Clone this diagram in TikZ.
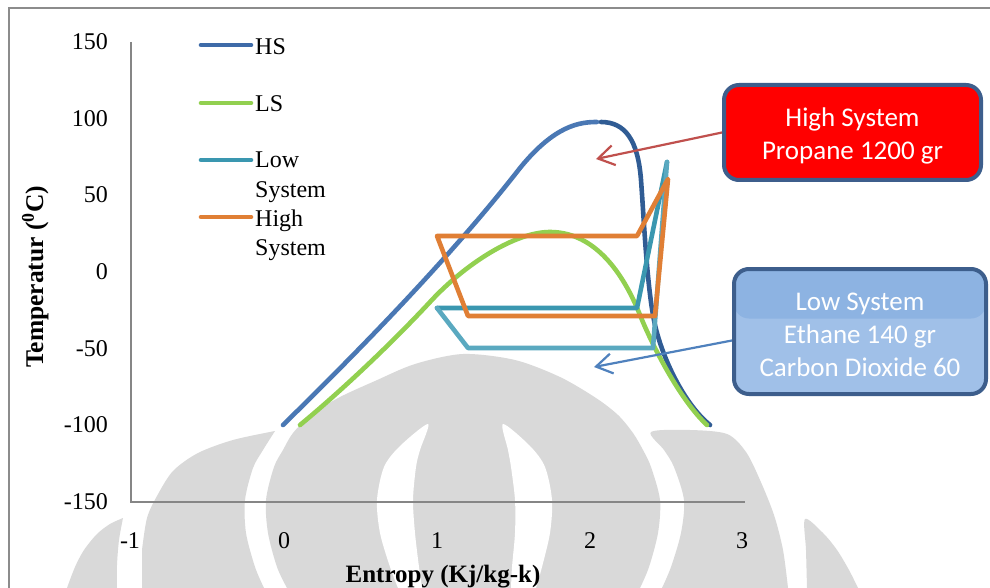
\documentclass[tikz,border=0pt]{standalone}
\usepackage{fontspec}
\setmainfont{Liberation Serif}
\newfontfamily\boxfont{Carlito}
\usetikzlibrary{arrows.meta}
\definecolor{wmgray}{HTML}{D9D9D9}
\definecolor{framegray}{HTML}{8C8C8C}
\definecolor{axisgray}{HTML}{868686}
\definecolor{hsA}{HTML}{4A78B4}
\definecolor{hsB}{HTML}{305C94}
\definecolor{hsleg}{HTML}{3E6BA8}
\definecolor{lsgreen}{HTML}{92D050}
\definecolor{lowA}{HTML}{3A97B0}
\definecolor{lowB}{HTML}{5AA9C0}
\definecolor{highor}{HTML}{E07F35}
\definecolor{boxred}{HTML}{FF0000}
\definecolor{boxborder}{HTML}{3D5E8C}
\definecolor{bluetop}{HTML}{8DB3E2}
\definecolor{bluebot}{HTML}{A0C0E8}
\definecolor{callred}{HTML}{C0504D}
\definecolor{callblue}{HTML}{4F81BD}
\begin{document}
\begin{tikzpicture}[x=1pt,y=-1pt,
  curve/.style={line width=4.6pt,line cap=round,line join=round},
  ticklab/.style={font=\fontsize{24}{28}\selectfont,inner sep=0pt},
  legtext/.style={font=\fontsize{24}{28}\selectfont,anchor=base west,inner sep=0pt},
  calloutarrow/.style={line width=2.2pt,-{Straight Barb[length=16pt,width=20pt]}},
  boxbase/.style={draw=boxborder,line width=4pt,rounded corners=15pt,align=center,
    text=white,font=\boxfont\fontsize{27}{33}\selectfont,inner sep=0pt},
  redbox/.style={boxbase,fill=boxred,minimum width=257pt,minimum height=95pt},
  bluebox/.style={boxbase,fill=bluebot,minimum width=252pt,minimum height=125pt,
    path picture={\fill[bluetop] (path picture bounding box.north west) rectangle ([yshift=13pt]path picture bounding box.east);}},
]
\useasboundingbox (0,0) rectangle (990,588);
\fill[white] (0,0) rectangle (990,588);

% watermark
\begin{scope}
\clip (0,0) rectangle (990,588);
\fill[wmgray] plot[smooth] coordinates {(67,588) (75,567) (84,550) (97,534) (110,524) (123,518)}
  -- plot[smooth] coordinates {(123,518) (119,540) (117,565) (117,588)} -- cycle;
\fill[wmgray] (142,588) -- plot[smooth] coordinates {(142,550) (147,518) (157,496) (173,471) (198,453) (233,440) (275,431)}
  -- plot[smooth] coordinates {(275,431) (263,450) (253,468) (245,500) (246,533) (255,567) (264,588)} -- cycle;
\fill[wmgray] plot[smooth] coordinates {(287,588) (277,567) (268,533) (266,500) (274,467) (283,450) (293,433) (312,414) (340,397) (375,381) (415,364) (463,354) (515,360) (560,377) (596,398) (618,415) (633,433) (643,450) (651,467) (660,500) (658,533) (649,567) (640,588)} -- cycle;
\fill[white] plot[smooth] coordinates {(398,588) (390,567) (380,533) (377,500) (384,467) (400,446) (428,424) (420,450) (416,467) (413,500) (415,533) (419,567) (422,588)} -- cycle;
\fill[white] plot[smooth] coordinates {(511,588) (512,567) (515,533) (515,500) (511,467) (508,450) (503,424) (530,446) (545,467) (552,500) (550,533) (542,567) (536,588)} -- cycle;
\fill[wmgray] plot[smooth] coordinates {(662,588) (671,567) (681,533) (684,500) (674,467) (664,450) (651,432) (690,430) (727,434) (746,452) (760,480) (774,515) (783,550) (788,588)} -- cycle;
\fill[wmgray] plot[smooth] coordinates {(807,588) (806,550) (805,519) (823,533) (837,550) (849,570) (858,588)} -- cycle;
\end{scope}

% frame and axes
\draw[framegray,line width=2pt] (9,588) -- (9,8) -- (990,8);
\draw[axisgray,line width=2pt] (131,42) -- (131,502) -- (745,502);

% y tick labels
\node[ticklab,anchor=east] (y150) at (108,42) {150};
\node[ticklab,anchor=east] (y100) at (108,118.5) {100};
\node[ticklab,anchor=east] (y50) at (108,195) {50};
\node[ticklab,anchor=east] (y0) at (108,272) {0};
\node[ticklab,anchor=east] (ym50) at (108,348.5) {-50};
\node[ticklab,anchor=east] (ym100) at (108,425) {-100};
\node[ticklab,anchor=east] (ym150) at (108,502) {-150};
% x tick labels
\node[ticklab] (xm1) at (130,541) {-1};
\node[ticklab] (x0) at (284,541) {0};
\node[ticklab] (x1) at (437,541) {1};
\node[ticklab] (x2) at (590,541) {2};
\node[ticklab] (x3) at (742,541) {3};

% axis titles
\node[font=\bfseries\fontsize{25}{30}\selectfont,anchor=base,inner sep=0pt] (xtitle) at (443,582) {Entropy (Kj/kg-k)};
\node[font=\bfseries\fontsize{25.5}{30}\selectfont,anchor=base,rotate=90,inner sep=0pt] (ytitle) at (43,277) {Temperatur (\textsuperscript{0}C)};

% legend
\draw[curve,hsleg] (201,45) -- (251,45);
\node[legtext] (lhs) at (255,55) {HS};
\draw[curve,lsgreen] (201,103) -- (251,103);
\node[legtext] (lls) at (255,112) {LS};
\draw[curve,lowA] (201,160) -- (251,160);
\node[legtext] (llow1) at (255,168) {Low};
\node[legtext] (llow2) at (255,198) {System};
\draw[curve,highor] (201,217) -- (251,217);
\node[legtext] (lhigh1) at (255,226) {High};
\node[legtext] (lhigh2) at (255,255) {System};

% HS dome
\draw[curve,hsA] (283,425) .. controls (380,330) and (460,245) .. (520,168)
  .. controls (555,125) and (580,122) .. (597,122);
\draw[curve,hsB] (601,122) .. controls (625,122) and (638,140) .. (641,180)
  .. controls (644,220) and (647,290) .. (655,325)
  .. controls (663,360) and (685,405) .. (710,425);
% LS dome
\draw[curve,lsgreen] (300,425) .. controls (340,392) and (390,345) .. (430,302)
  .. controls (465,264) and (515,232) .. (550,232)
  .. controls (590,232) and (620,265) .. (640,315)
  .. controls (652,345) and (680,400) .. (707,425);
% Low system cycle
\draw[curve,lowA] (437,308) -- (637,308) -- (667,162);
\draw[curve,lowB] (667,162) -- (653,348) -- (468,348) -- (437,308);
% High system cycle
\draw[curve,highor] (437,236) -- (637,236) -- (668,179) -- (655,316) -- (468,316) -- cycle;

% callouts
\node[redbox] (hsbox) at (852.5,132.5) {\rule{0pt}{25pt}High System\\Propane 1200 gr};
\node[bluebox] (lsbox) at (860,331.5) {\rule{0pt}{25pt}Low System\\Ethane 140 gr\\Carbon Dioxide 60};
\coordinate (hsTip) at (596,159);
\coordinate (lsTip) at (594,367);
\draw[calloutarrow,callred] (hsbox.west) -- (hsTip);
\draw[calloutarrow,callblue] ([yshift=-9pt]lsbox.west) -- (lsTip);
\end{tikzpicture}
\end{document}
